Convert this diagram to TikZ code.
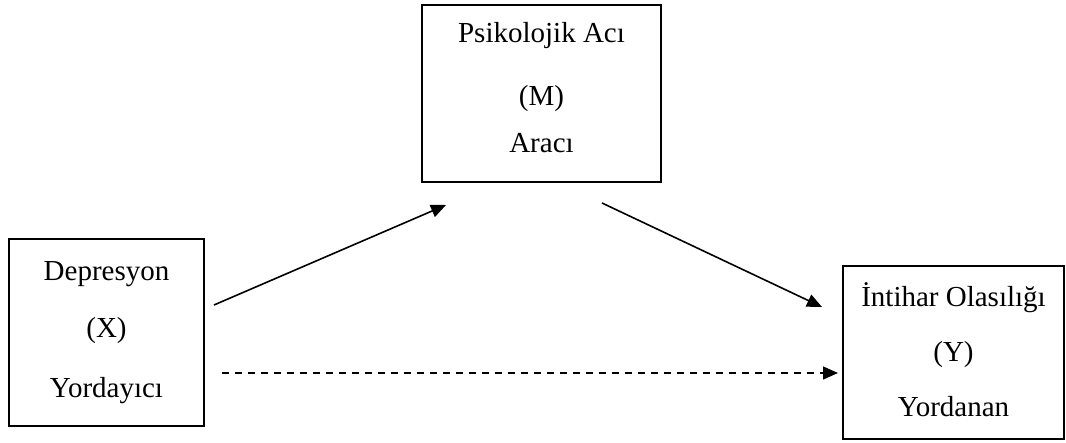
\documentclass[tikz,border=0pt]{standalone}
\usepackage{fontspec}
\setmainfont{Liberation Serif}
\usetikzlibrary{arrows.meta,calc}

\tikzset{
  varbox/.style={draw=black, line width=2pt, align=center, inner sep=0pt,
    font=\fontsize{29}{57}\selectfont},
  path/.style={line width=1.6pt, -{Triangle[length=15pt,width=13pt]}},
  direct/.style={path, dash pattern=on 7pt off 6pt}
}

\begin{document}
\begin{tikzpicture}[x=1pt, y=-1pt]
  \useasboundingbox (0,0) rectangle (1066,443);

  % the three variables of the mediation model
  \node[varbox, minimum width=195pt, minimum height=187pt] (X) at (106.5,332.5)
    {Depresyon\\(X)\\[3pt]Yordayıcı\rule[-5pt]{0pt}{0pt}};
  \node[varbox, minimum width=239pt, minimum height=177pt] (M) at (541.5,93.5)
    {Psikolojik Acı\\[6pt](M)\\[-10pt]Aracı\rule[-13pt]{0pt}{0pt}};
  \node[varbox, minimum width=221pt, minimum height=173pt] (Y) at (953.5,352.5)
    {İntihar Olasılığı\\[-2pt](Y)\\[-2pt]Yordanan\rule[-6pt]{0pt}{0pt}};

  % indirect paths through the mediator
  \draw[path] ($(X.east)+(9,-27.5)$) -- ($(M.south west)+(25,22)$);
  \draw[path] ($(M.south east)+(-60,20)$) -- ($(Y.north west)+(-20,42)$);

  % direct path
  \draw[direct] ($(X.east)+(17,40.5)$) -- ($(Y.west)+(-4,20.5)$);
\end{tikzpicture}
\end{document}
